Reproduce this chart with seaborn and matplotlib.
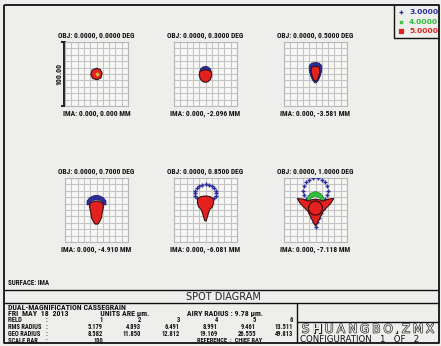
import matplotlib
matplotlib.use("Agg")
import matplotlib.pyplot as plt
from matplotlib import font_manager as fm
from matplotlib import patheffects as pe
import seaborn as sns
import pandas as pd

# ---- field data -------------------------------------------------------
field_no = [1, 2, 3, 4, 5, 6]
obj_deg = ["0.0000", "0.3000", "0.5000", "0.7000", "0.8500", "1.0000"]
ima_mm = ["0.000", "-2.096", "-3.581", "-4.910", "-6.081", "-7.118"]
rms_radius = ["5.179", "4.893", "6.491", "8.991", "9.461", "13.511"]
geo_radius = ["8.582", "11.850", "12.812", "19.169", "26.555", "49.813"]
wavelengths = ["3.0000", "4.0000", "5.0000"]
scale_bar_um = 100
airy_radius = "9.78"

# ---- spot outlines and ray dots, micrometres from the chief ray ---------
red_f1 = [(0, 9), (6, 7), (9, 1), (7, -6), (1, -9), (-6, -7), (-9, -1), (-7, 6)]

blue_f2 = [(-9, 2), (-8, 8), (-4, 11), (0, 12), (4, 11), (8, 8), (9, 2)]
red_f2 = [(-9, 4), (-10, -2), (-8, -8), (-4, -12), (0, -13), (4, -12), (8, -8),
          (10, -2), (9, 4), (4, 6), (0, 6.5), (-4, 6)]

blue_f3 = [(-10, 13), (-6, 17), (0, 18), (6, 17), (10, 13), (10, 6), (8, -2),
           (5, -9), (2, -13), (0, -14), (-2, -13), (-5, -9), (-8, -2), (-10, 6)]
red_f3 = [(-6, 11), (0, 12), (6, 11), (7, 4), (5, -4), (3, -9), (0, -11),
          (-3, -9), (-5, -4), (-7, 4)]

blue_f4 = [(-15, 8), (-15, 14), (-11, 19), (-5, 22), (0, 23), (5, 22), (11, 19),
           (15, 14), (15, 8), (11, 8), (10, 12), (6, 15), (0, 16), (-6, 15),
           (-10, 12), (-11, 8)]
red_f4 = [(-10, 11), (-11, 4), (-9, -4), (-8, -12), (-5, -18), (-2, -22), (2, -22),
          (5, -18), (8, -12), (9, -4), (11, 4), (10, 11), (5, 13), (0, 14), (-5, 13)]

blue_dots_f5 = [(17, 26), (16, 30), (14, 34), (10, 37), (5, 39), (0, 40), (-5, 39),
                (-10, 37), (-14, 34), (-16, 30), (-17, 26), (-16, 22), (-14, 18),
                (16, 22), (14, 18)]
red_f5 = [(-12, 18), (-13, 12), (-11, 5), (-7, 1), (-5, -4), (-3, -11), (-1, -17),
          (1, -17), (3, -11), (5, -4), (7, 1), (11, 5), (13, 12), (12, 18), (7, 21),
          (0, 22), (-7, 21)]

blue_dots_f6 = [(20, 30), (19, 37), (15, 43), (10, 47), (4, 50), (-4, 50), (-10, 47),
                (-15, 43), (-19, 37), (-20, 30), (-19, 23), (-15, 17), (19, 23),
                (15, 17), (-12, 2), (-9, -5), (-6, -12), (-3, -19), (0, -26),
                (12, 2), (9, -5), (6, -12), (3, -19), (-5, 1), (5, 1), (0, -8)]
green_f6 = [(-14, 10), (-13, 20), (-8, 26), (0, 29), (8, 26), (13, 20), (14, 10),
            (9, 10), (8, 18), (0, 22), (-8, 18), (-9, 10)]
red_f6 = [(-29, 18), (-20, 17), (-12, 14), (-6, 16), (0, 17), (6, 16), (12, 14),
          (20, 17), (29, 18), (24, 10), (18, 4), (12, -2), (9, -8), (6, -14),
          (3, -20), (0, -25), (-3, -20), (-6, -14), (-9, -8), (-12, -2), (-18, 4),
          (-24, 10)]

BLUE, GREEN, RED = "#2c2c9c", "#2fbf3a", "#e4211f"
BG = "#eeeeec"
W, H = 441, 346

sns.set_style("white")


def pick_narrow():
    fonts = fm.fontManager.ttflist
    names = {f.name for f in fonts}
    for cand in ["Liberation Sans Narrow", "DejaVu Sans Condensed", "Roboto Condensed"]:
        if cand in names:
            return cand, "normal"
    for f in fonts:
        if f.name == "DejaVu Sans" and "Condensed" in f.fname:
            return "DejaVu Sans", "condensed"
    return "DejaVu Sans", "normal"


NARROW, STRETCH = pick_narrow()
plt.rcParams["font.family"] = [NARROW, "DejaVu Sans"]
WIDE = ["DejaVu Sans"]

fig = plt.figure(figsize=(W / 100, H / 100), dpi=100, facecolor=BG)
page = fig.add_axes([0, 0, 1, 1])
page.set_xlim(0, W)
page.set_ylim(H, 0)
page.axis("off")
page.set_facecolor(BG)


def txt(x, y, s, size=4.7, ha="left", color="#111111", **kw):
    kw.setdefault("fontstretch", STRETCH)
    page.text(x, y, s, fontsize=size, ha=ha, va="center", color=color,
              fontweight="bold", **kw)


def line(xs, ys, lw=1.0):
    page.plot(xs, ys, color="#111111", lw=lw, solid_capstyle="butt")


# outer frame and panels
line([4, 439, 439, 4, 4], [5, 5, 343, 343, 5], lw=1.3)
line([4, 439], [290, 290])
line([4, 439], [303, 303])
line([297, 297], [303, 343])
line([297, 439], [322, 322])

# legend
line([394, 394, 439], [5, 38, 38])
for k, (wl, col, mk) in enumerate(zip(wavelengths, [BLUE, GREEN, RED], ["+", "x", "s"])):
    yk = 12 + k * 9.5
    page.scatter([401], [yk], marker=mk, s=5, color=col, linewidths=0.9)
    txt(409, yk, wl, size=5.4, color=col, family=WIDE, fontstretch="normal")

# spot boxes
col_left = [65, 174, 284]
row_top = [42, 178]
BW, BH = 63, 64

spots = [
    dict(red=red_f1),
    dict(blue=blue_f2, red=red_f2),
    dict(blue=blue_f3, red=red_f3),
    dict(blue=blue_f4, red=red_f4),
    dict(blue_dots=blue_dots_f5, red=red_f5),
    dict(blue_dots=blue_dots_f6, green=green_f6, red=red_f6),
]

for i, spec in enumerate(spots):
    r, c = divmod(i, 3)
    left, top = col_left[c], row_top[r]
    ax = fig.add_axes([left / W, 1 - (top + BH) / H, BW / W, BH / H])
    ax.set_facecolor("#f7f7f6")
    ax.set_xlim(-50, 50)
    ax.set_ylim(-50, 50)
    ax.set_xticks(range(-50, 51, 10))
    ax.set_yticks(range(-50, 51, 10))
    ax.grid(True, color="#c4c4c4", lw=0.8)
    ax.tick_params(length=0, labelbottom=False, labelleft=False)
    for s in ax.spines.values():
        s.set_color("#b8b8b8")
        s.set_linewidth(0.8)

    if "blue" in spec:
        xs, ys = zip(*spec["blue"])
        ax.fill(xs, ys, color=BLUE, ec="#1a1a60", lw=0.6, zorder=3)
    if "blue_dots" in spec:
        df = pd.DataFrame(spec["blue_dots"], columns=["x", "y"])
        sns.scatterplot(data=df, x="x", y="y", ax=ax, marker="+", s=10,
                        color=BLUE, linewidth=1.0, zorder=3, legend=False)
    if "green" in spec:
        xs, ys = zip(*spec["green"])
        ax.fill(xs, ys, color=GREEN, ec="#1f7f28", lw=0.5, zorder=4)
    xs, ys = zip(*spec["red"])
    ax.fill(xs, ys, color=RED, ec="#3a1010", lw=0.8, zorder=5)
    if i == 0:
        ax.scatter([0], [0], s=3, color="#c9b23a", zorder=6)
    if i == 5:
        ax.add_patch(plt.Circle((0, 3), 11, fc=RED, ec="#2a0a0a", lw=0.8, zorder=6))
    ax.set_xlabel("")
    ax.set_ylabel("")

    cx = left + BW / 2
    txt(cx, top - 6, f"OBJ: 0.0000, {obj_deg[i]} DEG", size=5.4, ha="center")
    txt(cx, top + BH + 8, f"IMA: 0.000, {ima_mm[i]} MM", size=5.4, ha="center")

# scale bar next to the first box
sb_x = col_left[0] - 1.5
line([sb_x, sb_x], [row_top[0], row_top[0] + BH], lw=1.3)
line([sb_x - 2.5, sb_x + 2.5], [row_top[0], row_top[0]], lw=1.3)
line([sb_x - 2.5, sb_x + 2.5], [row_top[0] + BH, row_top[0] + BH], lw=1.3)
txt(sb_x - 5, row_top[0] + BH / 2, f"{scale_bar_um:.2f}", size=5.6, ha="center",
    rotation=90)

txt(8, 283, "SURFACE: IMA", size=5.0)
page.text(223, 296.5, "SPOT DIAGRAM", fontsize=7.0, ha="center", va="center",
          color="#222222", family=WIDE)

# summary block: title and date line
head = ("DUAL-MAGNIFICATION CASSEGRAIN\n"
        "FRI  MAY  18  2013" + " " * 17 + "UNITS ARE \u00b5m." + " " * 20 +
        f"AIRY RADIUS : {airy_radius} \u00b5m.")
page.text(8, 310.4, head, fontsize=5.7, ha="left", va="center", color="#111111",
          fontweight="bold", fontstretch=STRETCH, linespacing=0.82)

# per-field table, one text block per column
LS = 0.84
rows_y = [321.0, 327.3, 333.6, 339.8]
mid4 = sum(rows_y) / 4
page.text(8, mid4, "FIELD\nRMS RADIUS\nGEO RADIUS\nSCALE BAR", fontsize=4.7,
          ha="left", va="center", fontweight="bold", fontstretch=STRETCH,
          color="#111111", linespacing=LS)
page.text(46, mid4, ":\n:\n:\n:", fontsize=4.7, ha="left", va="center",
          fontweight="bold", fontstretch=STRETCH, color="#111111", linespacing=LS)
col_right = [103, 141, 180, 218, 256, 293]
for k in range(6):
    cells = [str(field_no[k]), rms_radius[k], geo_radius[k]]
    if k == 0:
        cells.append(str(scale_bar_um))
    block_mid = sum(rows_y[:len(cells)]) / len(cells)
    page.text(col_right[k], block_mid, "\n".join(cells), fontsize=4.7, ha="right",
              va="center", multialignment="right", fontweight="bold",
              fontstretch=STRETCH, color="#111111", linespacing=LS)
txt(197, rows_y[3] + 0.6, "REFERENCE  :  CHIEF RAY", size=4.6)

# lens file name in hollow block letters, one cell per character
name_x = [305.5, 317.3, 329.1, 340.9, 352.7, 364.5, 376.3, 388.1, 396.5, 406, 418, 430]
for ch, xc in zip("SHUANGBO.ZMX", name_x):
    page.text(xc, 329.2, ch, fontsize=8.6, ha="center", va="center",
              color=BG, family=WIDE,
              path_effects=[pe.withStroke(linewidth=0.9, foreground="#222222")])
page.text(300, 339.0, "CONFIGURATION   1   OF   2", fontsize=6.2, ha="left",
          va="center", color="#111111", family=WIDE)

fig.savefig("out.png", dpi=100, facecolor=BG)
